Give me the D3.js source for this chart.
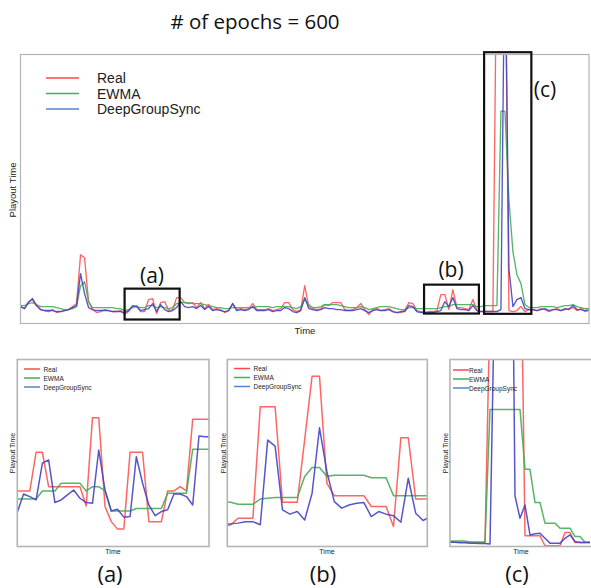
<!DOCTYPE html>
<html><head><meta charset="utf-8">
<script src="https://cdn.jsdelivr.net/npm/d3@7"></script>
<style>body{margin:0;background:#fff}svg{display:block}</style>
</head><body>
<svg id="chart" width="591" height="588"></svg>
<script>
// ---------- data ----------
const titleText = "# of epochs = 600";
const seriesNames = ["Real", "EWMA", "DeepGroupSync"];
const axisX = "Time";
const axisY = "Playout Time";
const panelLabels = ["(a)", "(b)", "(c)"];

// main chart (143 samples)
const mainReal = [17,15,22,24,18,14,13,12,14,11,12,13,14,17,20,69,66,22,14,11,12,14,13,12,12,13,9,12,17,18,12,12,24,25,10,21,22,13,14,26,26,21,20,21,16,21,15,19,14,15,14,11,13,20,14,15,14,15,20,14,14,14,15,13,14,15,21,21,14,12,14,38,17,15,14,15,19,18,21,21,21,14,13,14,16,20,14,9,14,15,13,14,15,12,11,11,13,21,20,13,12,11,12,12,13,29,29,14,34,16,16,15,14,24,13,12,12,12,12,400,400,400,13,12,13,17,12,14,14,13,15,14,12,14,15,13,14,15,16,13,15,12,13];
const mainEWMA = [18,18,20,21,19,17,17,17,17,16,15,14,14,15,17,38,42,22,16,16,16,16,16,16,15,15,13,14,16,17,16,16,18,18,16,17,16,15,16,20,21,21,21,20,20,20,19,18,17,16,16,15,15,16,16,16,16,16,16,17,17,17,17,16,17,17,17,17,16,15,17,24,19,16,16,17,19,19,19,19,18,17,16,16,16,17,16,14,15,16,17,17,17,16,15,14,14,16,16,15,15,15,15,15,15,16,17,17,19,19,19,19,19,19,17,17,18,18,18,18,213,213,124,72,49,40,19,16,16,16,17,17,17,17,16,17,18,18,19,17,16,15,15];
const mainDGS = [17,15,21,25,18,14,13,13,13,12,12,13,14,16,18,50,30,16,14,13,13,13,13,12,12,12,11,13,18,17,13,14,15,20,12,19,14,12,13,16,22,17,16,17,15,18,14,17,13,14,13,12,13,20,13,14,13,14,17,13,13,13,14,12,13,13,16,15,12,11,13,26,15,14,13,14,16,15,15,14,14,13,13,13,14,15,13,11,13,14,13,13,14,12,11,12,12,18,17,12,11,11,11,11,12,13,22,17,26,15,14,14,13,18,13,12,12,12,12,12,14,400,55,17,24,26,15,14,14,13,14,15,13,14,14,13,15,14,18,14,14,13,14];

// zoom (a)
const aReal = [29.7,29.7,29.7,50.4,50.4,32.0,32.0,32.0,32.0,32.0,32.0,21.7,68.9,68.9,21.4,13.3,9.3,9.3,50.4,50.4,50.4,13.3,13.3,13.3,29.7,29.7,32.0,29.7,68.1,68.1,68.1,68.1];
const aEWMA = [25.4,25.4,25.4,25.4,29.7,29.7,29.7,33.8,33.8,33.8,33.8,29.7,32.0,32.0,29.7,19.0,19.0,19.0,19.0,20.3,20.3,20.3,20.3,20.3,28.5,28.5,28.5,28.5,52.0,52.0,52.0,52.0];
const aDGS = [18.3,28.1,26.7,24.9,44.5,46.3,23.5,24.9,27.6,30.2,25.8,23.5,23.1,51.6,30.2,19.0,19.9,15.7,16.0,48.0,33.8,22.2,16.5,18.7,19.6,28.1,28.1,26.7,22.2,59.1,58.7,58.7];

// zoom (b)
const bReal = [10.7,11.6,15.1,15.1,15.1,74.7,74.7,74.7,23.7,23.7,23.7,57.3,91.1,91.1,33.8,27.2,27.2,27.2,27.2,27.2,21.4,21.4,21.4,10.7,58.2,58.2,25.4,25.4,25.4];
const bEWMA = [24.0,23.7,22.6,22.6,22.6,25.4,25.8,26.2,26.2,26.2,26.2,37.4,42.2,42.2,37.4,38.1,38.1,38.1,38.1,38.1,36.8,36.8,36.8,27.2,27.2,27.2,27.2,27.2,27.2];
const bDGS = [11.6,12.1,12.5,13.2,13.3,11.6,56.9,53.7,19.6,17.3,18.7,14.2,28.5,63.5,40.0,24.0,20.5,22.2,23.1,23.5,16.0,18.7,17.3,16.5,13.0,36.5,17.8,13.9,16.0];

// zoom (c)
const cReal = [2.3,2.3,2.3,2.3,2.3,2.3,2.3,2.3,130,300,300,300,300,300,200,5.7,5.7,5.7,5.7,0.4,0.4,0.4,0.4,7.5,7.5,2.1,2.1,2.1,2.1];
const cEWMA = [3.0,3.0,3.0,3.0,2.3,2.3,2.3,2.3,73.3,73.3,73.3,73.3,73.3,73.3,73.3,41.3,41.3,23.5,23.5,12.5,12.5,12.5,9.8,9.8,9.8,5.3,5.3,2.3,2.3];
const cDGS = [2.3,2.3,2.0,2.0,1.8,1.8,1.6,1.6,1.4,150,300,300,300,27.0,15.1,22.2,6.2,6.8,7.1,4.4,1.8,1.8,1.8,4.4,6.2,2.7,2.1,2.1,2.1];

// ---------- drawing ----------
const svg = d3.select("#chart");
const lineColors = ["#ff4a4a", "#45ad55", "#4444c4"];
const legendColors = ["#ff4a4a", "#45ad55", "#4f86cf"];
const sans = "'Liberation Sans', Arial, sans-serif";
const titleFont = "'Open Sans', 'Noto Sans', sans-serif";

svg.append("text").attr("x", 255).attr("y", 21)
  .attr("text-anchor", "middle").attr("dominant-baseline", "central")
  .attr("font-family", titleFont).attr("font-size", 20.5).attr("fill", "#111")
  .text(titleText);

let clipId = 0;
function panel(opt) {
  const g = svg.append("g");
  const x = d3.scaleLinear().domain(opt.xDomain).range([opt.x0, opt.x1]);
  const y = d3.scaleLinear().domain(opt.yDomain).range([opt.y1, opt.y0]);
  const id = "clip" + (clipId++);
  svg.append("clipPath").attr("id", id).append("rect")
    .attr("x", opt.x0).attr("y", opt.y0).attr("width", opt.x1 - opt.x0).attr("height", opt.y1 - opt.y0);
  const lg = g.append("g").attr("clip-path", `url(#${id})`);
  const line = d3.line().x((d, i) => x(i)).y(d => y(d));
  opt.series.forEach((s, k) => {
    lg.append("path").datum(s).attr("d", line).attr("fill", "none")
      .attr("stroke", lineColors[k]).attr("stroke-width", opt.lw)
      .attr("stroke-opacity", k === 0 ? 0.85 : 0.9).attr("stroke-linejoin", "round");
  });
  g.append("rect").attr("x", opt.x0).attr("y", opt.y0)
    .attr("width", opt.frameW || (opt.x1 - opt.x0)).attr("height", opt.y1 - opt.y0)
    .attr("fill", "none").attr("stroke", "#b4b4b4").attr("stroke-width", opt.fw);
  // legend
  seriesNames.forEach((n, k) => {
    const ly = opt.legY + k * opt.legDy;
    g.append("line").attr("x1", opt.legX).attr("x2", opt.legX + opt.legLen)
      .attr("y1", ly).attr("y2", ly).attr("stroke", legendColors[k]).attr("stroke-width", opt.legLw);
    g.append("text").attr("x", opt.legTx).attr("y", ly).attr("dominant-baseline", "central")
      .attr("font-family", sans).attr("font-size", opt.legFs).attr("fill", "#222").text(n);
  });
  g.append("text").attr("x", opt.tx).attr("y", opt.ty).attr("text-anchor", "middle")
    .attr("dominant-baseline", "central").attr("font-family", sans).attr("font-size", opt.axFs)
    .attr("fill", "#222").text(axisX);
  g.append("text").attr("transform", `translate(${opt.px},${opt.py}) rotate(-90)`)
    .attr("text-anchor", "middle").attr("dominant-baseline", "central")
    .attr("font-family", sans).attr("font-size", opt.axFs).attr("fill", "#222").text(axisY);
  return {x, y, g};
}

// main chart
const M = panel({
  x0: 20.5, x1: 589, y0: 54.5, y1: 323.5,
  xDomain: [0, mainReal.length - 1], yDomain: [0, 270],
  series: [mainReal, mainEWMA, mainDGS], lw: 1.35, fw: 1.2,
  legX: 46, legLen: 33, legY: 78, legDy: 15.5, legTx: 97, legFs: 14, legLw: 1.6,
  tx: 305, ty: 330, px: 12.5, py: 190, axFs: 9.5
});

// highlight boxes on main chart (index range, value range)
const boxes = [
  {i0: 26, i1: 39.75, v0: 4, v1: 35, label: "(a)", lx: 152, ly: 275},
  {i0: 100.8, i1: 114.5, v0: 10, v1: 39, label: "(b)", lx: 451, ly: 269},
  {i0: 115.8, i1: 127.6, v0: 9.7, v1: 272.3, label: "(c)", lx: 545, ly: 89}
];
boxes.forEach(b => {
  svg.append("rect").attr("x", M.x(b.i0)).attr("y", M.y(b.v1))
    .attr("width", M.x(b.i1) - M.x(b.i0)).attr("height", M.y(b.v0) - M.y(b.v1))
    .attr("fill", "none").attr("stroke", "#111").attr("stroke-width", 2.2);
  svg.append("text").attr("x", b.lx).attr("y", b.ly).attr("text-anchor", "middle")
    .attr("dominant-baseline", "central").attr("font-family", titleFont)
    .attr("font-size", 21).attr("fill", "#111").text(b.label);
});

// zoomed panels
const subCommon = {y0: 359.5, y1: 546.5, yDomain: [0, 100], lw: 1.5, fw: 1.6,
  legLen: 16, legDy: 9, legFs: 6.5, legLw: 1.5, ty: 551, py: 453, axFs: 7};
panel(Object.assign({}, subCommon, {
  x0: 17.3, x1: 209, xDomain: [0, 30.6], series: [aReal, aEWMA, aDGS],
  legX: 24, legY: 369, legTx: 43.5, tx: 113, px: 12.5
}));
panel(Object.assign({}, subCommon, {
  x0: 227.3, x1: 427.3, xDomain: [0.54, 27.57], series: [bReal, bEWMA, bDGS],
  legX: 234, legY: 368.5, legTx: 253.5, tx: 327, px: 223
}));
panel(Object.assign({}, subCommon, {
  x0: 450, x1: 590, frameW: 145, xDomain: [0, 28], series: [cReal, cEWMA, cDGS],
  legX: 453, legY: 370, legTx: 469, tx: 521, px: 445
}));

[[110, "(a)"], [323, "(b)"], [517, "(c)"]].forEach(([lx, t], k) => {
  svg.append("text").attr("x", lx).attr("y", 573).attr("text-anchor", "middle")
    .attr("dominant-baseline", "central").attr("font-family", titleFont)
    .attr("font-size", 22).attr("fill", "#111").text(panelLabels[k]);
});
</script>
</body></html>
